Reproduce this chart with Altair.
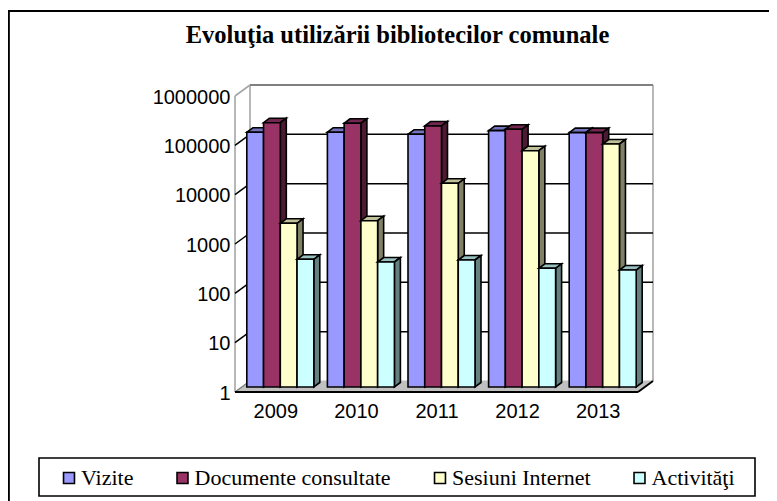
import altair as alt
import pandas as pd

years = ["2009", "2010", "2011", "2012", "2013"]
series = ["Vizite", "Documente consultate", "Sesiuni Internet", "Activităţi"]
vizite = [145500, 146000, 132700, 157000, 143000]
documente = [228000, 222000, 195500, 167500, 143000]
sesiuni = [2080, 2350, 13460, 61700, 84300]
activitati = [388, 342, 375, 255, 235]
values = [vizite, documente, sesiuni, activitati]
front_colors = ["#9999FF", "#993366", "#FFFFCC", "#CCFFFF"]
top_colors = ["#7373BF", "#732650", "#BFBF99", "#99BFBF"]
side_colors = ["#4D4D80", "#4C1A33", "#808066", "#668080"]
ticks = [1, 10, 100, 1000, 10000, 100000, 1000000]

PX_X = 403 / 5     # pixels per category
PX_DEC = 296 / 6   # pixels per decade
OX, OY = 235, 96   # plot origin on the page


def dx(px):
    return px / PX_X


def lift(px):
    return 10 ** (px / PX_DEC)


def page_x(px):
    return alt.value(px - OX)


def page_y(px):
    return alt.value(px - OY)


XS = alt.Scale(domain=[0, 5], nice=False, zero=False)
YS = alt.Scale(type="log", domain=[1, 1000000], nice=False)

x_axis = alt.Axis(
    values=[i + 0.5 for i in range(len(years))],
    labelExpr="[" + ",".join(f"'{y}'" for y in years) + "][floor(datum.value)]",
    domain=False, ticks=False, grid=False, labelFont="Liberation Sans", labelFontSize=20,
    labelColor="black", labelPadding=9, labelOverlap=False, labelFlush=False, labelAngle=0,
    title=None,
)
y_axis = alt.Axis(
    values=ticks, format="d", domain=False, ticks=False, grid=False,
    labelFont="Liberation Sans", labelFontSize=20, labelColor="black",
    labelPadding=5, labelOverlap=False, labelOffset=1, labelFlush=False,
    title=None,
)


def X():
    return alt.X("x:Q", scale=XS, axis=x_axis)


def Y():
    return alt.Y("y:Q", scale=YS, axis=y_axis, stack=None)


GRAY = "#A6A6A6"
DARK = "#808080"
BK, BK_LIFT = dx(15), lift(11)
x_end = 5

empty = pd.DataFrame({"k": [0]})


def seg(rows, color, width):
    df = pd.DataFrame(rows, columns=["x", "x2", "y", "y2"])
    return alt.Chart(df).mark_rule(color=color, strokeWidth=width).encode(
        x=X(), x2="x2:Q", y=Y(), y2="y2:Q"
    )


layers = []

# outer frame and legend box
layers.append(alt.Chart(empty).mark_rule(color="black", strokeWidth=2).encode(
    x=page_x(8), x2=page_x(777), y=page_y(11)))
layers.append(alt.Chart(empty).mark_rule(color="black", strokeWidth=2.5).encode(
    x=page_x(8.6), y=page_y(10), y2=page_y(501)))
layers.append(alt.Chart(empty).mark_rect(fill="white", stroke="black", strokeWidth=1.6).encode(
    x=page_x(39), x2=page_x(755), y=page_y(458), y2=page_y(496)))

# floor
floor = pd.DataFrame({
    "y": [1, BK_LIFT], "x": [0, BK], "x2": [x_end, x_end + BK], "k": [0, 0]
})
layers.append(alt.Chart(floor).mark_area(orient="horizontal", color="#C0C0C0", stroke="#C0C0C0").encode(
    y=Y(), x=X(), x2="x2:Q", detail="k:N"))

# walls
layers.append(seg([[0, 0, 1, 1000000],
                   [BK, BK, BK_LIFT, 1000000 * BK_LIFT],
                   [x_end + BK, x_end + BK, BK_LIFT, 1000000 * BK_LIFT],
                   [0, BK, 1000000, 1000000 * BK_LIFT]], GRAY, 1.6))
layers.append(seg([[BK, x_end + BK, 1000000 * BK_LIFT, 1000000 * BK_LIFT]], DARK, 2))
layers.append(seg([[0, BK, 1, BK_LIFT]], DARK, 1.5))

# grid lines on back wall and slanted ticks on side wall
grid_rows = [[BK, x_end + BK, t * BK_LIFT, t * BK_LIFT] for t in ticks[1:-1]]
tick_rows = [[0, BK, t, t * BK_LIFT] for t in ticks[1:-1]]
layers.append(seg(grid_rows + tick_rows, "black", 1.5))

# floor edges
layers.append(seg([[0, x_end, 1, 1], [x_end, x_end + BK, 1, BK_LIFT]], "black", 2))

# bars, painted left to right so that each hides its neighbour's side
BAR_W = dx(67) / 4
START = dx(11.8)
BASE = lift(5)
D_X, D_L = dx(6), lift(4.5)
STROKE = dict(stroke="black", strokeWidth=1.6)

for s, name in enumerate(series):
    front, top, side = [], [], []
    for i, v in enumerate(values[s]):
        x0 = i + START + s * BAR_W
        x1 = x0 + BAR_W
        y1 = v * BASE
        front.append({"x": x0, "x2": x1, "y": BASE, "y2": y1, "serie": name})
        top += [
            {"y": y1, "x": x0, "x2": x1, "b": i},
            {"y": y1 * D_L, "x": x0 + D_X, "x2": x1 + D_X, "b": i},
        ]
        side += [
            {"x": x1, "y": y1, "y2": BASE, "b": i},
            {"x": x1 + D_X, "y": y1 * D_L, "y2": BASE * D_L, "b": i},
        ]
    layers.append(alt.Chart(pd.DataFrame(top)).mark_area(
        orient="horizontal", fill=top_colors[s], **STROKE
    ).encode(y=Y(), x=X(), x2="x2:Q", detail="b:N"))
    layers.append(alt.Chart(pd.DataFrame(side)).mark_area(
        fill=side_colors[s], **STROKE
    ).encode(x=X(), y=Y(), y2="y2:Q", detail="b:N"))
    layers.append(alt.Chart(pd.DataFrame(front)).mark_rect(**STROKE).encode(
        x=X(), x2="x2:Q", y=Y(), y2="y2:Q",
        color=alt.Color(
            "serie:N",
            scale=alt.Scale(domain=series, range=front_colors),
            legend=alt.Legend(
                orient="none", legendX=58 - OX, legendY=467 - OY, direction="horizontal",
                columns=4, gridAlign="none", columnPadding=37.5, title=None,
                symbolType="square", symbolSize=120, symbolStrokeColor="black",
                symbolStrokeWidth=1.6, symbolOpacity=1, labelFont="Liberation Serif", labelFontSize=22,
                labelColor="black", labelLimit=400, labelOffset=1,
            ),
        ),
    ))

chart = alt.layer(*layers).properties(
    width=403,
    height=296,
    background="white",
    padding={"left": OX - 8, "top": OY - 8, "right": 761 - (OX - 8) - 403, "bottom": 493 - (OY - 8) - 296},
    autosize=alt.AutoSizeParams(type="none"),
    title=alt.TitleParams(
        "Evoluţia utilizării bibliotecilor comunale",
        font="Liberation Serif", fontSize=24.5, fontWeight="bold", color="black",
        anchor="middle", frame="group", offset=-64, dx=-39, baseline="bottom",
    ),
).configure_view(stroke=None)

chart.save("out.html", embed_options={"renderer": "svg", "actions": False})
